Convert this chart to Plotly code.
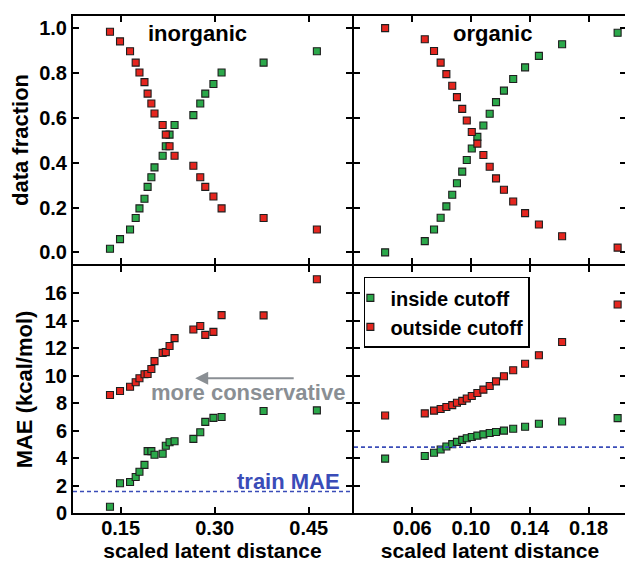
import plotly.graph_objects as go

# ---------------- data ----------------
cutoff_inorg = [0.133, 0.149, 0.165, 0.174, 0.180, 0.188, 0.193, 0.199, 0.204, 0.217,
                0.222, 0.228, 0.236, 0.266, 0.277, 0.285, 0.298, 0.311, 0.378, 0.463]
frac_in_inorg = [0.016, 0.059, 0.102, 0.153, 0.196, 0.239, 0.292, 0.335, 0.379, 0.431,
                 0.473, 0.525, 0.568, 0.612, 0.664, 0.708, 0.751, 0.802, 0.846, 0.897]
frac_out_inorg = [0.984, 0.941, 0.897, 0.846, 0.802, 0.759, 0.708, 0.664, 0.619, 0.568,
                  0.525, 0.473, 0.431, 0.386, 0.335, 0.292, 0.249, 0.196, 0.153, 0.102]
mae_in_inorg = [0.45, 2.17, 2.26, 2.62, 3.01, 3.51, 4.51, 4.51, 4.25, 4.32,
                4.90, 5.16, 5.23, 5.40, 5.88, 6.64, 6.93, 7.00, 7.43, 7.48]
mae_out_inorg = [8.60, 8.89, 9.20, 9.53, 9.82, 10.11, 10.13, 10.49, 11.07, 11.67,
                 11.72, 12.17, 12.74, 13.37, 13.63, 12.98, 13.20, 14.42, 14.40, 17.03]

cutoff_org = [0.0415, 0.0685, 0.0748, 0.0793, 0.0832, 0.0872, 0.0904, 0.0940, 0.0971, 0.1005,
              0.1043, 0.1084, 0.1127, 0.1170, 0.1224, 0.1287, 0.1368, 0.1462, 0.1620, 0.1998]
frac_in_org = [0.000, 0.050, 0.102, 0.154, 0.205, 0.257, 0.308, 0.360, 0.412, 0.463,
               0.515, 0.566, 0.618, 0.670, 0.721, 0.773, 0.825, 0.876, 0.928, 0.979]
frac_out_org = [1.000, 0.950, 0.898, 0.846, 0.795, 0.743, 0.692, 0.640, 0.588, 0.537,
                0.485, 0.434, 0.382, 0.330, 0.279, 0.227, 0.175, 0.124, 0.072, 0.021]
mae_in_org = [3.96, 4.15, 4.39, 4.63, 4.85, 5.02, 5.18, 5.33, 5.45, 5.54,
              5.64, 5.73, 5.83, 5.90, 6.00, 6.14, 6.28, 6.50, 6.67, 6.91]
mae_out_org = [7.10, 7.26, 7.46, 7.58, 7.72, 7.86, 8.03, 8.17, 8.34, 8.53,
               8.75, 8.99, 9.25, 9.59, 9.97, 10.40, 10.88, 11.50, 12.46, 15.19]

train_mae_inorg = 1.57
train_mae_org = 4.80

frac_ticks = [0.0, 0.2, 0.4, 0.6, 0.8, 1.0]
mae_ticks = [0, 2, 4, 6, 8, 10, 12, 14, 16]
x_ticks_inorg = [0.15, 0.30, 0.45]
x_ticks_org = [0.06, 0.10, 0.14, 0.18]

series_names = ["inside cutoff", "outside cutoff"]
panel_titles = ["inorganic", "organic"]

# ---------------- style ----------------
GREEN = "#2ba84a"
RED = "#e5261f"
FONT = "Liberation Sans"
BLUE = "#3a4cb8"
GRAY = "#8a8f94"

def marker(color):
    return dict(symbol="square", size=7, color=color, line=dict(color="#1e1e1e", width=1.1))

fig = go.Figure()

panels = [
    ("x", "y", cutoff_inorg, frac_in_inorg, frac_out_inorg, False),
    ("x2", "y2", cutoff_org, frac_in_org, frac_out_org, False),
    ("x3", "y3", cutoff_inorg, mae_in_inorg, mae_out_inorg, False),
    ("x4", "y4", cutoff_org, mae_in_org, mae_out_org, True),
]
for xa, ya, xs, yin, yout, leg in panels:
    fig.add_trace(go.Scatter(x=xs, y=yin, mode="markers", marker=marker(GREEN),
                             name=series_names[0], showlegend=leg, xaxis=xa, yaxis=ya))
    fig.add_trace(go.Scatter(x=xs, y=yout, mode="markers", marker=marker(RED),
                             name=series_names[1], showlegend=leg, xaxis=xa, yaxis=ya))

tickfont = dict(family=FONT, size=20, color="black", weight="bold")
titlefont = dict(family=FONT, size=22, color="black", weight="bold")
xtitlefont = dict(family=FONT, size=21, color="black", weight="bold")

common = dict(showline=True, linecolor="black", linewidth=2, mirror="allticks",
              ticks="inside", ticklen=6, tickwidth=2, tickcolor="black",
              showgrid=False, zeroline=False, tickfont=tickfont, automargin=False)

# page has an 8px body margin: figure is 625x555 placed at (8, 8)
xl_end, xr_start = 0.5045, 0.5081
yb_end, yt_start = 0.497, 0.501

fig.update_layout(
    width=625, height=555,
    margin=dict(l=65, r=7, t=8, b=50),
    paper_bgcolor="white", plot_bgcolor="white",
    showlegend=True,
    xaxis=dict(domain=[0, xl_end], anchor="y", range=[0.074, 0.519],
               tickvals=x_ticks_inorg, showticklabels=False, **common),
    yaxis=dict(domain=[yt_start, 1], anchor="x", range=[-0.052, 1.054],
               tickvals=frac_ticks, tickformat=".1f",
               title=dict(text="data fraction", font=titlefont, standoff=6), **common),
    xaxis2=dict(domain=[xr_start, 1], anchor="y2", range=[0.0203, 0.2055],
                tickvals=x_ticks_org, showticklabels=False, **common),
    yaxis2=dict(domain=[yt_start, 1], anchor="x2", range=[-0.052, 1.054],
                tickvals=frac_ticks, showticklabels=False, **common),
    xaxis3=dict(domain=[0, xl_end], anchor="y3", range=[0.074, 0.519],
                tickvals=x_ticks_inorg, tickformat=".2f", ticklabelstandoff=-4,
                title=dict(text="scaled latent distance", font=xtitlefont, standoff=2), **common),
    yaxis3=dict(domain=[0, yb_end], anchor="x3", range=[0, 18],
                tickvals=mae_ticks,
                title=dict(text="MAE (kcal/mol)", font=titlefont, standoff=6), **common),
    xaxis4=dict(domain=[xr_start, 1], anchor="y4", range=[0.0203, 0.2055],
                tickvals=x_ticks_org, tickformat=".2f", ticklabelstandoff=-4,
                title=dict(text="scaled latent distance", font=xtitlefont, standoff=2), **common),
    yaxis4=dict(domain=[0, yb_end], anchor="x4", range=[0, 18],
                tickvals=mae_ticks, showticklabels=False, **common),
    legend=dict(x=0.526, y=0.475, xanchor="left", yanchor="top",
                bgcolor="white", bordercolor="black", borderwidth=1.5,
                font=dict(family=FONT, size=20, color="black", weight="bold"),
                indentation=-15, itemwidth=30, tracegroupgap=0),
)

# train MAE dashed lines
fig.add_shape(type="line", xref="x3 domain", yref="y3", x0=0, x1=1,
              y0=train_mae_inorg, y1=train_mae_inorg,
              line=dict(color=BLUE, width=1.6, dash="4px,3px"))
fig.add_shape(type="line", xref="x4 domain", yref="y4", x0=0, x1=1,
              y0=train_mae_org, y1=train_mae_org,
              line=dict(color=BLUE, width=1.6, dash="4px,3px"))

# annotations
fig.add_annotation(text=panel_titles[0], xref="x domain", yref="y domain", x=0.447, y=0.93,
                   xanchor="center", yanchor="middle", showarrow=False, font=titlefont)
fig.add_annotation(text=panel_titles[1], xref="x2 domain", yref="y2 domain", x=0.511, y=0.93,
                   xanchor="center", yanchor="middle", showarrow=False, font=titlefont)
fig.add_annotation(text="train MAE", xref="x3 domain", yref="y3 domain", x=0.964, y=0.1285,
                   xanchor="right", yanchor="middle", showarrow=False,
                   font=dict(family=FONT, size=22, color=BLUE, weight="bold"))
fig.add_annotation(text="more conservative", xref="x3 domain", yref="y3 domain", x=0.626, y=0.486,
                   xanchor="center", yanchor="middle", showarrow=False,
                   font=dict(family=FONT, size=22, color=GRAY, weight="bold"))
fig.add_annotation(text="", xref="x3 domain", yref="y3 domain", x=0.438, y=0.546,
                   ax=100, ay=0, showarrow=True, arrowhead=2, arrowsize=1.3,
                   arrowwidth=2, arrowcolor=GRAY)

fig.write_html("out.html")
